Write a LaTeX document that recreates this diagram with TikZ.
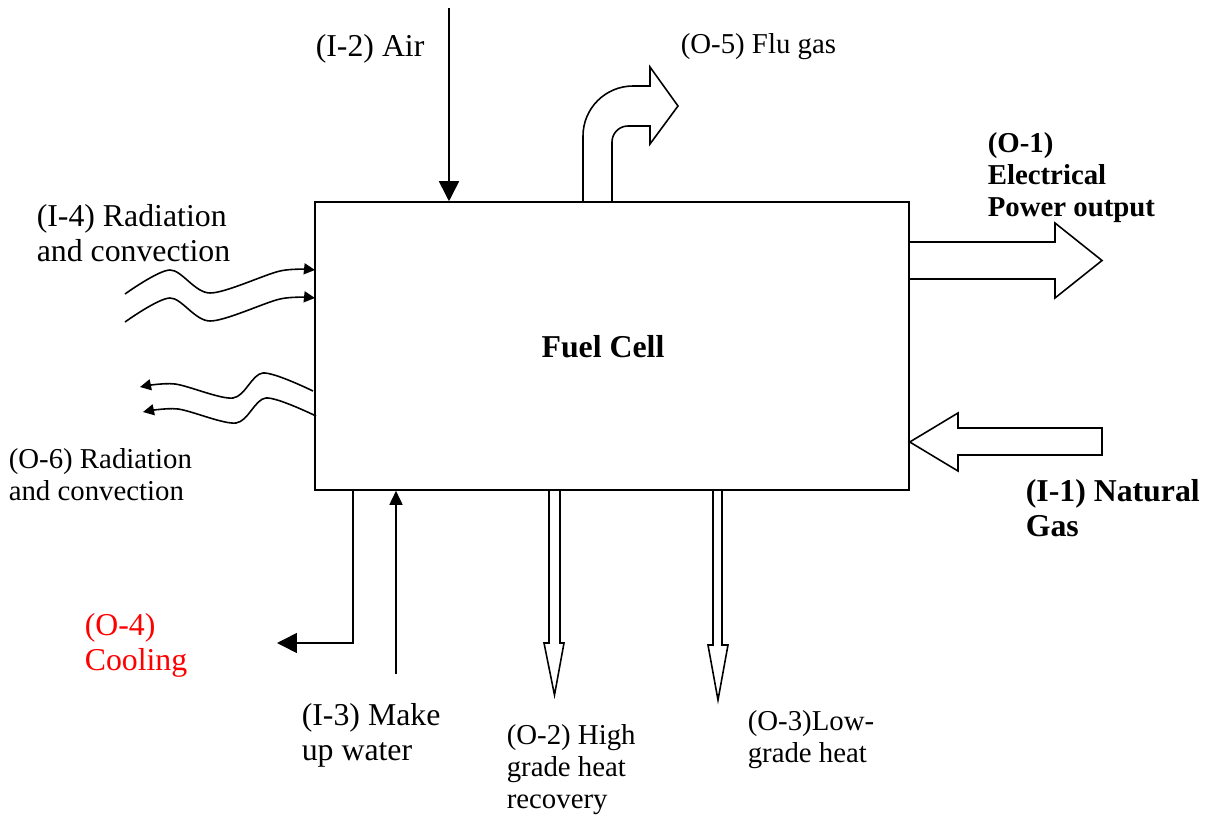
\documentclass[tikz,border=0pt]{standalone}
\usepackage{fontspec}
\setmainfont{Liberation Serif}
\usetikzlibrary{arrows.meta}

\newcommand\bigtxt{\fontsize{18.1}{19.6}\selectfont}
\newcommand\smtxt{\fontsize{16.4}{18.1}\selectfont}

\begin{document}
\begin{tikzpicture}[x=0.02cm, y=-0.02cm, line width=0.9pt,
    biglbl/.style={font=\bigtxt, align=left, inner sep=0, anchor=base west},
    smlbl/.style={font=\smtxt, align=left, inner sep=0, anchor=base west},
    bigtip/.style={-{Triangle[length=0.4cm,width=0.4cm]}},
    wavetip/.style={-{Triangle[length=0.22cm,width=0.22cm]}}]
    \useasboundingbox (0,0) rectangle (1211,818);

    % Box
    \node[draw, minimum width=11.88cm, minimum height=5.76cm, inner sep=0] (cell) at (612,346) {};
    \node[font=\bigtxt\bfseries] (name) at (603,347) {Fuel Cell};

    % Air and make up water
    \coordinate (airin) at (449,8);
    \draw[bigtip] (airin) -- (airin |- cell.north);
    \coordinate (waterin) at (396,674);
    \draw[-{Triangle[length=0.28cm,width=0.26cm]}] (waterin) -- (waterin |- cell.south);

    % Cooling
    \coordinate (coolout) at (277,643);
    \draw[bigtip] (353,0 |- cell.south) |- (coolout);

    % Flu gas
    \draw (583,0 |- cell.north) -- (583,136) arc (180:270:50) -- (650,86) -- (650,67) -- (678,106)
        -- (650,144) -- (650,126) -- (628,126) arc (270:180:16) -- (612,0 |- cell.north);

    % Power output and natural gas
    \draw (cell.east |- 0,242) -- (1055,242) -- (1055,223) -- (1102,260.5) -- (1055,298) -- (1055,279) -- (cell.east |- 0,279);
    \draw (cell.east |- 0,442) -- (958,413) -- (958,428) -- (1102,428) -- (1102,455) -- (958,455) -- (958,471) -- cycle;

    % Heat outputs
    \draw (549,0 |- cell.south) -- (549,643) -- (544,643) -- (554.5,695) -- (564,643) -- (560,643) -- (560,0 |- cell.south);
    \draw (713,0 |- cell.south) -- (713,645) -- (708,645) -- (718,700) -- (728,645) -- (722,645) -- (722,0 |- cell.south);

    % Radiation in and out
    \foreach \dy in {0,28}
        \draw[wavetip, shift={(0,\dy)}] plot[smooth] coordinates {(125,294) (170,270) (210,293) (280,271) (315,270)};
    \foreach \dx/\dy in {0/0,3/25}
        \draw[wavetip, shift={(\dx,\dy)}] plot[smooth] coordinates {(313,391) (263,373) (233,398) (175,384) (140,387)};

    % Labels (anchored at the last line)
    \node[biglbl] (air) at (315,56) {(I-2) Air};
    \node[smlbl] (flue) at (680,53) {(O-5) Flu gas};
    \node[biglbl] (radin) at (36,261) {(I-4) Radiation\\and convection};
    \node[smlbl] (radout) at (8,500) {(O-6) Radiation\\and convection};
    \node[smlbl, font=\smtxt\bfseries] (power) at (987,216) {(O-1)\\Electrical\\Power output};
    \node[biglbl, font=\bigtxt\bfseries] (gas) at (1025,536) {(I-1) Natural\\Gas};
    \node[biglbl, text=red] (cool) at (84,670) {(O-4)\\Cooling};
    \node[biglbl] (water) at (301,760) {(I-3) Make\\up water};
    \node[smlbl] (high) at (506,808) {(O-2) High\\grade heat\\recovery};
    \node[smlbl] (low) at (747,762) {(O-3)Low-\\grade heat};
\end{tikzpicture}
\end{document}
